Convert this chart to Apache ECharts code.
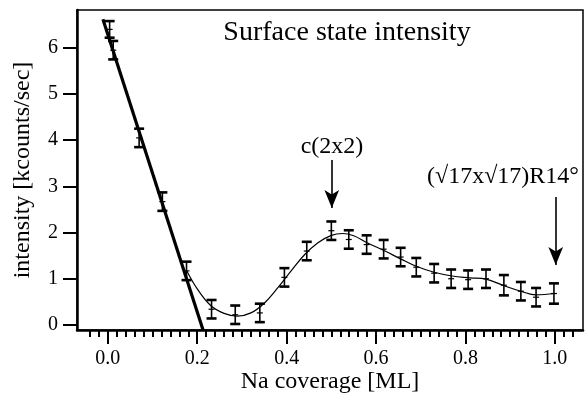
<!DOCTYPE html>
<html>
<head>
<meta charset="utf-8">
<script src="https://cdn.jsdelivr.net/npm/echarts@6/dist/echarts.min.js"></script>
<style>
  html, body { margin: 0; padding: 0; background: #fff; }
  #main { width: 587px; height: 395px; }
</style>
</head>
<body>
<div id="main"></div>
<script>
// measured points with error bars
var coverage = [0.004, 0.012, 0.07, 0.122, 0.176, 0.232, 0.285, 0.34, 0.395, 0.445, 0.50, 0.539,
                0.579, 0.617, 0.655, 0.69, 0.73, 0.768, 0.806, 0.846, 0.886, 0.924, 0.958, 0.998]
var intensity = [6.4, 5.95, 4.05, 2.67, 1.17, 0.34, 0.22, 0.26, 1.03, 1.6, 2.04, 1.85,
                 1.74, 1.64, 1.47, 1.25, 1.12, 1.0, 0.98, 1.0, 0.86, 0.73, 0.6, 0.68]
var errors = [0.18, 0.2, 0.2, 0.2, 0.2, 0.2, 0.2, 0.2, 0.2, 0.2, 0.2, 0.2,
              0.2, 0.2, 0.2, 0.2, 0.2, 0.2, 0.2, 0.2, 0.22, 0.2, 0.2, 0.22]

// thin guide curve through the data
var curveX = [0.175, 0.2, 0.23, 0.26, 0.29, 0.32, 0.35, 0.38, 0.41, 0.44, 0.47, 0.5, 0.525,
              0.55, 0.58, 0.62, 0.655, 0.69, 0.73, 0.77, 0.81, 0.846, 0.886, 0.924, 0.958, 1.0]
var curveY = [1.2, 0.78, 0.42, 0.25, 0.19, 0.26, 0.47, 0.8, 1.17, 1.52, 1.78, 1.94, 1.98,
              1.93, 1.78, 1.6, 1.43, 1.27, 1.14, 1.06, 1.02, 0.99, 0.85, 0.73, 0.65, 0.68]

// thick linear fit of the initial drop
var fitX = [-0.011, 0.213]
var fitY = [6.62, -0.11]

// tick labels
var xTicks = [0.0, 0.2, 0.4, 0.6, 0.8, 1.0]
var yTicks = [0, 1, 2, 3, 4, 5, 6]

var xMinor = []
for (var i = -2; i <= 52; i++) {
    if (i % 10 != 0) xMinor.push(+(i * 0.02).toFixed(2))
}

var FONT = 'Liberation Serif'

function zip(a, b, c) {
    var out = []
    for (var i = 0; i < a.length; i++) out.push(c ? [a[i], b[i], c[i]] : [a[i], b[i]])
    return out
}

function errorBar(params, api) {
    var x = api.value(0), y = api.value(1), e = api.value(2)
    var hi = api.coord([x, y + e]), lo = api.coord([x, y - e]), mid = api.coord([x, y])
    var w = 5
    return {
        type: 'group',
        children: [
            { type: 'line', shape: { x1: hi[0], y1: hi[1], x2: lo[0], y2: lo[1] }, style: { stroke: '#000', lineWidth: 1.6 } },
            { type: 'line', shape: { x1: hi[0] - w, y1: hi[1], x2: hi[0] + w, y2: hi[1] }, style: { stroke: '#000', lineWidth: 2.6 } },
            { type: 'line', shape: { x1: lo[0] - w, y1: lo[1], x2: lo[0] + w, y2: lo[1] }, style: { stroke: '#000', lineWidth: 2.6 } },
            { type: 'line', shape: { x1: mid[0] - 3, y1: mid[1], x2: mid[0] + 3, y2: mid[1] }, style: { stroke: '#000', lineWidth: 1.2 } }
        ]
    }
}

var myChart = echarts.init(document.getElementById('main'))
myChart.setOption({
    animation: false,
    textStyle: { fontFamily: FONT, color: '#000' },
    grid: {
        left: 77, top: 10, right: 4, bottom: 65,
        outerBoundsMode: 'none',
        containLabel: false,
        show: true, borderColor: '#000', borderWidth: 1.5
    },
    xAxis: [{
        type: 'value',
        min: -0.069, max: 1.063,
        name: 'Na coverage [ML]',
        nameLocation: 'middle',
        nameGap: 40,
        nameMoveOverlap: false,
        nameTextStyle: { fontFamily: FONT, fontSize: 24, color: '#000' },
        axisLine: { onZero: false, lineStyle: { color: '#000', width: 2.5 } },
        axisTick: { customValues: xTicks, length: 14, lineStyle: { color: '#000', width: 2 } },
        axisLabel: {
            customValues: xTicks, margin: 19,
            fontFamily: FONT, fontSize: 20, color: '#000',
            formatter: function (v) { return v.toFixed(1) }
        },
        splitLine: { show: false }
    }, {
        type: 'value',
        position: 'bottom',
        min: -0.069, max: 1.063,
        axisLine: { show: false, onZero: false },
        axisTick: { customValues: xMinor, length: 7, lineStyle: { color: '#000', width: 2 } },
        axisLabel: { show: false },
        splitLine: { show: false }
    }],
    yAxis: {
        type: 'value',
        min: -0.11, max: 6.82,
        name: 'intensity [kcounts/sec]',
        nameLocation: 'middle',
        nameGap: 42,
        nameMoveOverlap: false,
        nameTextStyle: { fontFamily: FONT, fontSize: 24, color: '#000' },
        axisLine: { show: true, onZero: false, lineStyle: { color: '#000', width: 2.5 } },
        axisTick: { show: true, customValues: yTicks, length: 14, lineStyle: { color: '#000', width: 2 } },
        axisLabel: { customValues: yTicks, margin: 19, fontFamily: FONT, fontSize: 20, color: '#000' },
        splitLine: { show: false }
    },
    series: [{
        type: 'line',
        data: zip(fitX, fitY),
        symbol: 'none',
        lineStyle: { color: '#000', width: 3.2 },
        z: 3
    }, {
        type: 'line',
        data: zip(curveX, curveY),
        smooth: 0.4,
        symbol: 'none',
        lineStyle: { color: '#000', width: 1.2 },
        markLine: {
            silent: true,
            symbol: ['none', 'arrow'],
            symbolSize: [11, 18],
            lineStyle: { color: '#000', width: 1.6, type: 'solid' },
            label: { show: false },
            data: [
                [{ coord: [0.501, 3.57] }, { coord: [0.501, 2.53] }],
                [{ coord: [1.002, 2.77] }, { coord: [1.002, 1.30] }]
            ]
        },
        z: 2
    }, {
        type: 'custom',
        renderItem: errorBar,
        data: zip(coverage, intensity, errors),
        encode: { x: 0, y: 1 },
        z: 4
    }],
    graphic: [{
        type: 'text', x: 347, y: 33,
        style: { text: 'Surface state intensity', font: '28px "Liberation Serif"', fill: '#000', align: 'center', verticalAlign: 'middle' }
    }, {
        type: 'text', x: 332, y: 147,
        style: { text: 'c(2x2)', font: '24px "Liberation Serif"', fill: '#000', align: 'center', verticalAlign: 'middle' }
    }, {
        type: 'text', x: 503, y: 177,
        style: { text: '(\u221A17x\u221A17)R14\u00B0', font: '24px "Liberation Serif"', fill: '#000', align: 'center', verticalAlign: 'middle' }
    }]
})
</script>
</body>
</html>
